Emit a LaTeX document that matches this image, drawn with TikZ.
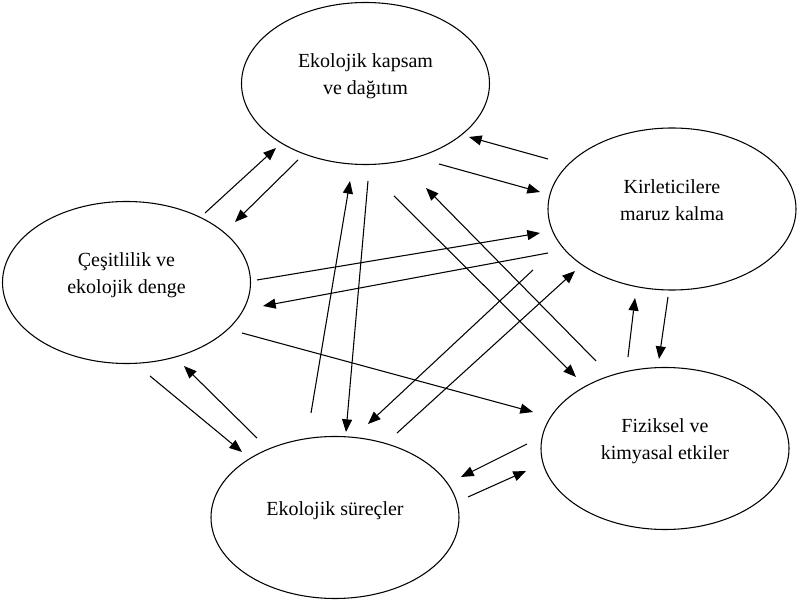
\documentclass[tikz,border=0pt]{standalone}
\usepackage{fontspec}
\setmainfont{Liberation Serif}
\usetikzlibrary{shapes.geometric,arrows.meta}
\newcommand{\lowpad}{\rule[-14pt]{0pt}{14pt}}
\tikzset{
  bubble/.style={draw, ellipse, line width=0.8pt, inner sep=0pt,
    minimum width=186pt, minimum height=121.5pt, align=center,
    font=\fontsize{15pt}{20.25pt}\selectfont},
  arr/.style={line width=0.8pt, -{Triangle[length=9.5pt,width=7.5pt]}}
}
\begin{document}
\begin{tikzpicture}[x=0.75pt,y=-0.75pt]
\useasboundingbox (0,0) rectangle (797,605);
\node[bubble] (kapsam) at (365.5,83.5) {Ekolojik kapsam\\ve dağıtım\lowpad};
\node[bubble] (kirlet) at (672,209) {Kirleticilere\\maruz kalma\lowpad};
\node[bubble] (cesit) at (126.5,282.5) {Çeşitlilik ve\\ekolojik denge\lowpad};
\node[bubble] (surec) at (335,517.5) {Ekolojik süreçler\lowpad};
\node[bubble] (fizik) at (665,448.5) {Fiziksel ve\\kimyasal etkiler\lowpad};
% arrow end points
\foreach \n/\sx/\sy/\ex/\ey in {
  1/205/213/276/148,
  2/298/160/235/222,
  3/548/159/469/137,
  4/439/164/540/192,
  5/257/280/540/233,
  6/548/253/263/306,
  7/311/413/350/181,
  8/368/181/346/432,
  9/394/196/576/377,
  10/596/361/426/188,
  11/533/270/368/424,
  12/397/433/575/271,
  13/242/333/533/412,
  14/150/376/242/452,
  15/257/438/184/366,
  16/527/444/461/477,
  17/468/497/526/471,
  18/628/357/635/298,
  19/668/297/659/359}{
  \coordinate (s\n) at (\sx,\sy);
  \coordinate (e\n) at (\ex,\ey);
}
\foreach \n in {1,...,19}{\draw[arr] (s\n) -- (e\n);}
\end{tikzpicture}
\end{document}
